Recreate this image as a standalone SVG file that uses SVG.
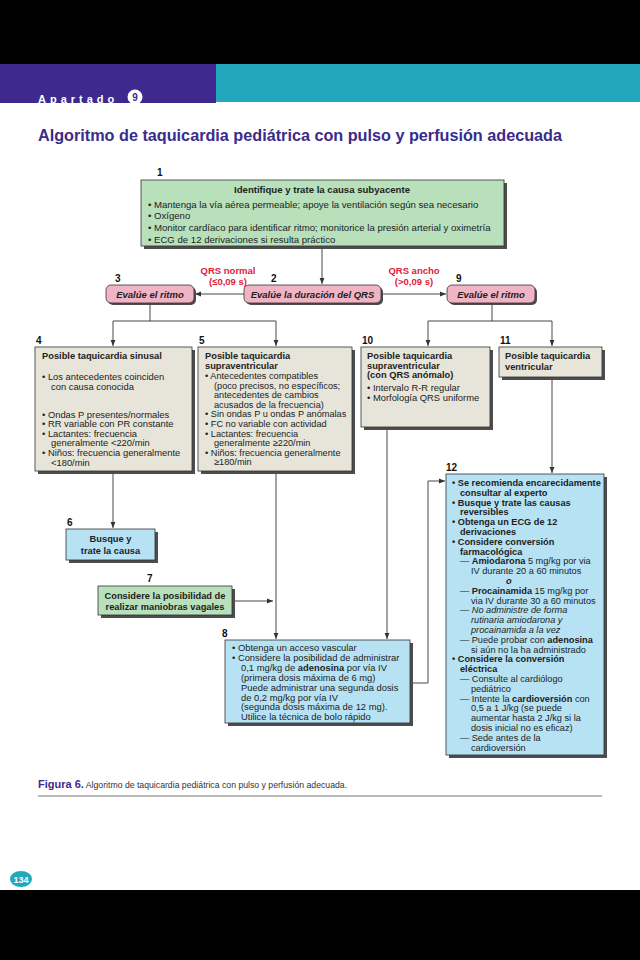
<svg xmlns="http://www.w3.org/2000/svg" width="640" height="960" viewBox="0 0 640 960">
<style>
text{font-family:"Liberation Sans",Arial,sans-serif;fill:#222}
.t{font-size:9.4px}
.s{font-size:9.2px}
.b{font-weight:bold}
.hd{font-size:9.3px;font-weight:bold}
.num{font-size:10px;font-weight:bold;fill:#111}
.red{font-size:9.5px;font-weight:bold;fill:#e0213b}
.pk{font-size:9.5px;font-weight:bold;font-style:italic;fill:#222}
.sh{fill:#4d4d4d}
.green{fill:#b7e0bb;stroke:#333;stroke-width:0.8}
.beige{fill:#e7e5d9;stroke:#333;stroke-width:0.8}
.blue{fill:#b6e2f4;stroke:#333;stroke-width:0.8}
.pink{fill:#f1b4c4;stroke:#333;stroke-width:0.8}
.ln{fill:none;stroke:#333;stroke-width:0.9}
</style>
<defs>
<marker id="ah" viewBox="0 0 10 10" refX="10" refY="5" markerWidth="6" markerHeight="6" orient="auto" markerUnits="userSpaceOnUse"><path d="M0,1 L10,5 L0,9 z" fill="#333"/></marker>
<clipPath id="hc"><rect x="0" y="64" width="640" height="39"/></clipPath>
</defs>
<rect x="0" y="0" width="640" height="960" fill="#fff"/>
<rect x="0" y="0" width="640" height="64" fill="#000"/>
<rect x="0" y="890" width="640" height="70" fill="#000"/>
<g id="header" clip-path="url(#hc)">
<rect x="0" y="64" width="216" height="39" fill="#3e2a8e"/>
<rect x="216" y="64" width="424" height="38" fill="#23a7bc"/>
<text x="38" y="102.5" style="font-size:11px;font-weight:bold;fill:#fff;letter-spacing:4px">Apartado</text>
<circle cx="135" cy="97" r="7.5" fill="#fff"/>
<text x="135" y="100.8" text-anchor="middle" style="font-size:10px;font-weight:bold;fill:#3e2a8e">9</text>
</g>
<text x="38" y="141" textLength="524" lengthAdjust="spacingAndGlyphs" style="font-size:16.5px;font-weight:bold;fill:#3b2b8c">Algoritmo de taquicardia pediátrica con pulso y perfusión adecuada</text>

<g id="connectors">
<path class="ln" d="M322,246 V284" marker-end="url(#ah)"/>
<path class="ln" d="M244,294 H195" marker-end="url(#ah)"/>
<path class="ln" d="M381,294 H446" marker-end="url(#ah)"/>
<path class="ln" d="M150,303 V321 M113,321 H276"/>
<path class="ln" d="M113,321 V346" marker-end="url(#ah)"/>
<path class="ln" d="M276,321 V346" marker-end="url(#ah)"/>
<path class="ln" d="M492,303 V321 M428,321 H552"/>
<path class="ln" d="M428,321 V346" marker-end="url(#ah)"/>
<path class="ln" d="M552,321 V346" marker-end="url(#ah)"/>
<path class="ln" d="M113,471 V528" marker-end="url(#ah)"/>
<path class="ln" d="M276,471 V639" marker-end="url(#ah)"/>
<path class="ln" d="M232,601 H273" marker-end="url(#ah)"/>
<path class="ln" d="M387,428 V639" marker-end="url(#ah)"/>
<path class="ln" d="M552,377 V473" marker-end="url(#ah)"/>
<path class="ln" d="M413,683 H428 V481 H445" marker-end="url(#ah)"/>
</g>

<g id="n1">
<text class="num" x="157" y="176">1</text>
<rect class="sh" x="144" y="183" width="363" height="66"/>
<rect class="green" x="141" y="180" width="363" height="66"/>
<text class="hd" x="322" y="193" text-anchor="middle" style="font-size:9.6px">Identifique y trate la causa subyacente</text>
<text x="148" y="207.5" style="font-size:9.6px">•  Mantenga la vía aérea permeable; apoye la ventilación según sea necesario</text>
<text x="148" y="219.3" style="font-size:9.6px">•  Oxígeno</text>
<text x="148" y="231.1" style="font-size:9.6px">•  Monitor cardíaco para identificar ritmo; monitorice la presión arterial y oximetría</text>
<text x="148" y="242.9" style="font-size:9.6px">•  ECG de 12 derivaciones si resulta práctico</text>
</g>

<g id="n2">
<text class="num" x="271" y="282">2</text>
<rect class="sh" x="246" y="287" width="137" height="18" rx="5"/>
<rect class="pink" x="244" y="285" width="137" height="18" rx="5"/>
<text class="pk" x="312.5" y="297.5" text-anchor="middle">Evalúe la duración del QRS</text>
</g>
<g id="n3">
<text class="num" x="115" y="282">3</text>
<rect class="sh" x="108" y="287" width="88" height="18" rx="5"/>
<rect class="pink" x="106" y="285" width="88" height="18" rx="5"/>
<text class="pk" x="150" y="297.5" text-anchor="middle">Evalúe el ritmo</text>
</g>
<g id="n9">
<text class="num" x="456" y="282">9</text>
<rect class="sh" x="449" y="287" width="88" height="18" rx="5"/>
<rect class="pink" x="447" y="285" width="88" height="18" rx="5"/>
<text class="pk" x="491" y="297.5" text-anchor="middle">Evalúe el ritmo</text>
</g>
<g id="labels">
<text class="red" x="228" y="274" text-anchor="middle">QRS normal</text>
<text class="red" x="228" y="285" text-anchor="middle">(≤0,09 s)</text>
<text class="red" x="414" y="274" text-anchor="middle">QRS ancho</text>
<text class="red" x="414" y="285" text-anchor="middle">(&gt;0,09 s)</text>
</g>

<g id="n4">
<text class="num" x="36" y="344">4</text>
<rect class="sh" x="38" y="350" width="157" height="124"/>
<rect class="beige" x="35" y="347" width="157" height="124"/>
<text class="hd" x="42" y="359">Posible taquicardia sinusal</text>
<text class="t" x="42" y="380">•  Los antecedentes coinciden</text>
<text class="t" x="51" y="389.6">con causa conocida</text>
<text class="t" x="42" y="417.5">•  Ondas P presentes/normales</text>
<text class="t" x="42" y="427.1">•  RR variable con PR constante</text>
<text class="t" x="42" y="436.7">•  Lactantes: frecuencia</text>
<text class="t" x="51" y="446.3">generalmente &lt;220/min</text>
<text class="t" x="42" y="455.9">•  Niños: frecuencia generalmente</text>
<text class="t" x="51" y="465.5">&lt;180/min</text>
</g>

<g id="n5">
<text class="num" x="199" y="344">5</text>
<rect class="sh" x="201" y="350" width="154" height="124"/>
<rect class="beige" x="198" y="347" width="154" height="124"/>
<text class="hd" x="205" y="359">Posible taquicardia</text>
<text class="hd" x="205" y="368.5">supraventricular</text>
<text class="s" x="205" y="379">•  Antecedentes compatibles</text>
<text class="s" x="214" y="388.6">(poco precisos, no específicos;</text>
<text class="s" x="214" y="398.2">antecedentes de cambios</text>
<text class="s" x="214" y="407.8">acusados de la frecuencia)</text>
<text class="s" x="205" y="417.4">•  Sin ondas P u ondas P anómalas</text>
<text class="s" x="205" y="427">•  FC no variable con actividad</text>
<text class="s" x="205" y="436.6">•  Lactantes: frecuencia</text>
<text class="s" x="214" y="446.2">generalmente ≥220/min</text>
<text class="s" x="205" y="455.8">•  Niños: frecuencia generalmente</text>
<text class="s" x="214" y="465.4">≥180/min</text>
</g>

<g id="n10">
<text class="num" x="362" y="344">10</text>
<rect class="sh" x="364" y="350" width="129" height="80"/>
<rect class="beige" x="361" y="347" width="129" height="80"/>
<text class="hd" x="367" y="359">Posible taquicardia</text>
<text class="hd" x="367" y="368.5">supraventricular</text>
<text class="hd" x="367" y="378">(con QRS anómalo)</text>
<text class="t" x="367" y="391">•  Intervalo R-R regular</text>
<text class="t" x="367" y="401">•  Morfología QRS uniforme</text>
</g>

<g id="n11">
<text class="num" x="500" y="344">11</text>
<rect class="sh" x="502" y="350" width="103" height="30"/>
<rect class="beige" x="499" y="347" width="103" height="30"/>
<text class="hd" x="505" y="359">Posible taquicardia</text>
<text class="hd" x="505" y="369.5">ventricular</text>
</g>

<g id="n6">
<text class="num" x="67" y="526">6</text>
<rect class="sh" x="69" y="532" width="89" height="31"/>
<rect class="blue" x="66" y="529" width="89" height="31"/>
<text class="hd" x="110.5" y="542" text-anchor="middle">Busque y</text>
<text class="hd" x="110.5" y="553.5" text-anchor="middle">trate la causa</text>
</g>

<g id="n7">
<text class="num" x="147" y="582">7</text>
<rect class="sh" x="101" y="589" width="134" height="29"/>
<rect class="green" x="98" y="586" width="134" height="29"/>
<text class="hd" x="165" y="598.5" text-anchor="middle">Considere la posibilidad de</text>
<text class="hd" x="165" y="610" text-anchor="middle">realizar maniobras vagales</text>
</g>

<g id="n8">
<text class="num" x="222" y="637">8</text>
<rect class="sh" x="228" y="643" width="185" height="83"/>
<rect class="blue" x="225" y="640" width="185" height="83"/>
<text class="t" x="232" y="651">•  Obtenga un acceso vascular</text>
<text class="t" x="232" y="660.9">•  Considere la posibilidad de administrar</text>
<text class="t" x="241" y="670.8">0,1 mg/kg de <tspan class="b">adenosina</tspan> por vía IV</text>
<text class="t" x="241" y="680.7">(primera dosis máxima de 6 mg)</text>
<text class="t" x="241" y="690.6">Puede administrar una segunda dosis</text>
<text class="t" x="241" y="700.5">de 0,2 mg/kg por vía IV</text>
<text class="t" x="241" y="710.4">(segunda dosis máxima de 12 mg).</text>
<text class="t" x="241" y="720.3">Utilice la técnica de bolo rápido</text>
</g>

<g id="n12">
<text class="num" x="446" y="471">12</text>
<rect class="sh" x="449" y="477" width="158" height="281"/>
<rect class="blue" x="446" y="474" width="158" height="281"/>
<text class="s b" x="452" y="486">•  Se recomienda encarecidamente</text>
<text class="s b" x="460" y="495.8">consultar al experto</text>
<text class="s b" x="452" y="505.6">•  Busque y trate las causas</text>
<text class="s b" x="460" y="515.4">reversibles</text>
<text class="s b" x="452" y="525.2">•  Obtenga un ECG de 12</text>
<text class="s b" x="460" y="535">derivaciones</text>
<text class="s b" x="452" y="544.8">•  Considere conversión</text>
<text class="s b" x="460" y="554.6">farmacológica</text>
<text class="s" x="460" y="564.4">— <tspan class="b">Amiodarona</tspan> 5 mg/kg por via</text>
<text class="s" x="471" y="574.2">IV durante 20 a 60 minutos</text>
<text class="s b" x="506" y="584" style="font-style:italic">o</text>
<text class="s" x="460" y="593.8">— <tspan class="b">Procainamida</tspan> 15 mg/kg por</text>
<text class="s" x="471" y="603.6">via IV durante 30 a 60 minutos</text>
<text class="s" x="460" y="613.4">— <tspan style="font-style:italic">No administre de forma</tspan></text>
<text class="s" x="471" y="623.2" style="font-style:italic">rutinaria amiodarona y</text>
<text class="s" x="471" y="633" style="font-style:italic">procainamida a la vez</text>
<text class="s" x="460" y="642.8">— Puede probar con <tspan class="b">adenosina</tspan></text>
<text class="s" x="471" y="652.6">si aún no la ha administrado</text>
<text class="s b" x="452" y="662.4">•  Considere la conversión</text>
<text class="s b" x="460" y="672.2">eléctrica</text>
<text class="s" x="460" y="682">— Consulte al cardiólogo</text>
<text class="s" x="471" y="691.8">pediátrico</text>
<text class="s" x="460" y="701.6">— Intente la <tspan class="b">cardioversión</tspan> con</text>
<text class="s" x="471" y="711.4">0,5 a 1 J/kg (se puede</text>
<text class="s" x="471" y="721.2">aumentar hasta 2 J/kg si la</text>
<text class="s" x="471" y="731">dosis inicial no es eficaz)</text>
<text class="s" x="460" y="740.8">— Sede antes de la</text>
<text class="s" x="471" y="750.6">cardioversión</text>
</g>

<g id="caption">
<text x="38" y="788" style="font-size:11px;font-weight:bold;fill:#3b2b8c">Figura 6.<tspan style="font-size:8.7px;font-weight:normal;fill:#333"> Algoritmo de taquicardia pediátrica con pulso y perfusión adecuada.</tspan></text>
<line x1="38" y1="796" x2="602" y2="796" stroke="#777" stroke-width="1"/>
</g>
<g id="page">
<ellipse cx="21" cy="879" rx="11" ry="8" fill="#23a7bc"/>
<text x="21" y="882.5" text-anchor="middle" style="font-size:9px;font-weight:bold;fill:#fff">134</text>
</g>
</svg>
